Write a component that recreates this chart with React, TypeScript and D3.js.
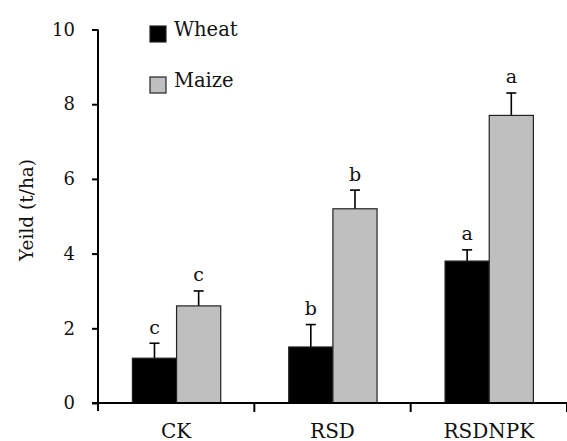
import React, { useEffect, useRef } from 'react';
import * as d3 from 'd3';

const categories = ['CK', 'RSD', 'RSDNPK'];
const seriesNames = ['Wheat', 'Maize'];
const wheat = [1.2, 1.5, 3.8];
const maize = [2.6, 5.2, 7.7];
const wheatErr = [0.4, 0.6, 0.3];
const maizeErr = [0.4, 0.5, 0.6];
const wheatLetters = ['c', 'b', 'a'];
const maizeLetters = ['c', 'b', 'a'];
const yTicks = [0, 2, 4, 6, 8, 10];

const W = 567;
const H = 441;
const FONT = '"DejaVu Serif", "Liberation Serif", serif';
const colors = { Wheat: '#000000', Maize: '#bfbfbf' };

const drawChart = (ref) => {
	const svg = d3.select(ref.current);
	svg.selectAll('*').remove();

	const left = 98;
	const x0 = d3.scaleBand().domain(categories).range([left, W]).padding(0);
	const bw = x0.bandwidth();
	const x1 = d3.scaleBand().domain(seriesNames).range([bw * 0.22, bw * 0.785]).padding(0);
	const y = d3.scaleLinear().domain([0, 10]).range([403, 29.5]);

	const rows = categories.map((c, i) => ({
		cat: c,
		items: [
			{ s: 'Wheat', v: wheat[i], e: wheatErr[i], l: wheatLetters[i] },
			{ s: 'Maize', v: maize[i], e: maizeErr[i], l: maizeLetters[i] },
		],
	}));

	const g = svg.append('g');
	const groups = g.selectAll('g.cat').data(rows)
		.enter()
		.append('g')
		.attr('transform', (d) => `translate(${ x0(d.cat) },0)`);

	const items = groups.selectAll('g.item').data((d) => d.items)
		.enter()
		.append('g');
	const cx = (d) => x1(d.s) + x1.bandwidth() / 2;

	// error bars (drawn first so bars cover the lower half)
	items.append('line')
		.attr('x1', cx)
		.attr('x2', cx)
		.attr('y1', (d) => y(d.v - d.e))
		.attr('y2', (d) => y(d.v + d.e))
		.attr('stroke', '#000')
		.attr('stroke-width', 1.6);
	items.append('line')
		.attr('x1', (d) => cx(d) - 5)
		.attr('x2', (d) => cx(d) + 5)
		.attr('y1', (d) => y(d.v - d.e))
		.attr('y2', (d) => y(d.v - d.e))
		.attr('stroke', '#000')
		.attr('stroke-width', 1.6);

	items.append('rect')
		.attr('x', (d) => x1(d.s))
		.attr('y', (d) => y(d.v))
		.attr('width', x1.bandwidth())
		.attr('height', (d) => y(0) - y(d.v))
		.attr('fill', (d) => colors[d.s])
		.attr('stroke', '#222')
		.attr('stroke-width', 1.2);

	items.append('line')
		.attr('x1', (d) => cx(d) - 5)
		.attr('x2', (d) => cx(d) + 5)
		.attr('y1', (d) => y(d.v + d.e))
		.attr('y2', (d) => y(d.v + d.e))
		.attr('stroke', '#000')
		.attr('stroke-width', 1.6);

	items.append('text')
		.attr('x', cx)
		.attr('y', (d) => y(d.v + d.e) - 9.5)
		.attr('text-anchor', 'middle')
		.attr('font-family', FONT)
		.attr('font-size', 19)
		.attr('fill', '#111')
		.text((d) => d.l);

	// y axis
	const yAxis = g.append('g').attr('transform', `translate(${ left },0)`)
		.call(d3.axisLeft(y).tickValues(yTicks)
			.tickSize(6)
			.tickPadding(17)
			.tickFormat(d3.format('d')));
	yAxis.select('.domain').attr('d', `M0,${ y(10) }V${ y(0) + 8 }`)
		.attr('stroke-width', 2);
	yAxis.selectAll('.tick line').attr('stroke-width', 2);
	yAxis.selectAll('text').attr('font-family', FONT)
		.attr('font-size', 18)
		.attr('fill', '#111');

	// x axis
	const xAxis = g.append('g').attr('transform', `translate(0,${ y(0) })`);
	xAxis.append('line')
		.attr('x1', left - 6)
		.attr('x2', W)
		.attr('stroke', '#000')
		.attr('stroke-width', 2);
	xAxis.selectAll('line.tk').data(categories)
		.enter()
		.append('line')
		.attr('x1', (d) => x0(d) + bw)
		.attr('x2', (d) => x0(d) + bw)
		.attr('y1', 0)
		.attr('y2', 9)
		.attr('stroke', '#000')
		.attr('stroke-width', 2);
	xAxis.selectAll('text').data(categories)
		.enter()
		.append('text')
		.attr('x', (d) => x0(d) + bw / 2)
		.attr('y', 35)
		.attr('text-anchor', 'middle')
		.attr('font-family', FONT)
		.attr('font-size', 20)
		.attr('fill', '#111')
		.text((d) => d);

	// y label
	g.append('text')
		.attr('transform', 'translate(33,210) rotate(-90)')
		.attr('text-anchor', 'middle')
		.attr('font-family', FONT)
		.attr('font-size', 18.5)
		.attr('fill', '#111')
		.text('Yeild (t/ha)');

	// legend
	const legend = g.selectAll('g.leg').data(seriesNames)
		.enter()
		.append('g')
		.attr('transform', (d, i) => `translate(150,${ 26 + i * 51 })`);
	legend.append('rect')
		.attr('width', 16)
		.attr('height', 16)
		.attr('fill', (d) => colors[d])
		.attr('stroke', '#222')
		.attr('stroke-width', 1.2);
	legend.append('text')
		.attr('x', 24)
		.attr('y', 10)
		.attr('font-family', FONT)
		.attr('font-size', 19.5)
		.attr('fill', '#111')
		.text((d) => d);
};

const App = () => {
	const ref = useRef(null);

	useEffect(() => drawChart(ref), []);

	return (
		<svg ref={ ref } width={ W } height={ H }
			style={ { position: 'absolute', left: 0, top: 0, background: '#fff' } }/>
	);
};

export default App;
